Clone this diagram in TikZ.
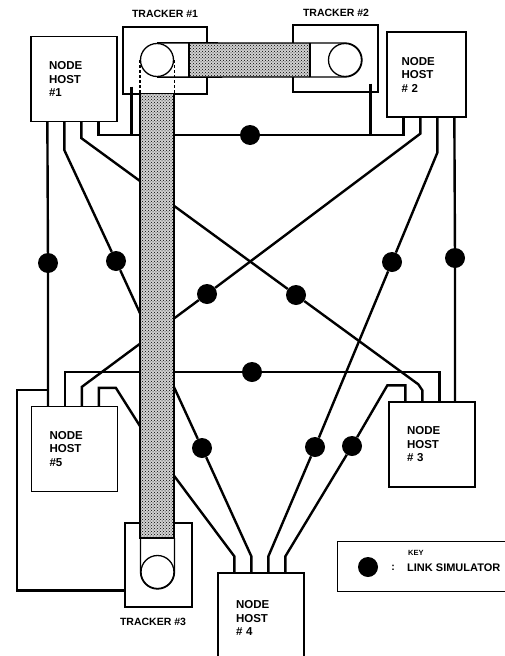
\documentclass[tikz,border=0pt]{standalone}
\usepackage{fontspec}
\newfontfamily\diagfont{Liberation Sans}
\usetikzlibrary{calc, patterns}

\begin{document}
\begin{tikzpicture}[x=1pt, y=-1pt,
        host/.style={rectangle, draw, line width=1.3pt, inner sep=0pt, text width=50pt, align=left,
          minimum width=86pt, minimum height=85pt, font=\diagfont\bfseries\fontsize{11.5}{13.5}\selectfont},
        tracker/.style={rectangle, draw, line width=1.3pt, minimum width=84pt, minimum height=67pt},
        trk/.style={inner sep=0pt, font=\diagfont\bfseries\fontsize{10.5}{12}\selectfont},
        pulley/.style={circle, draw, fill=white, line width=1.3pt, minimum size=33pt, inner sep=0pt},
        sim/.style={circle, fill=black, minimum size=20pt, inner sep=0pt},
        link/.style={line width=2.4pt},
        beltline/.style={line width=1.3pt},
        belt/.style={preaction={fill=black!18}, pattern=crosshatch dots, pattern color=black}]

        \useasboundingbox (0,0) rectangle (504,656);

        % Node hosts
        \node[host] (h1) at (74,79) {NODE\\HOST\\\#1};
        \node[host, minimum width=79pt] (h2) at (426.5,74.5) {NODE\\HOST\\\# 2};
        \node[host] (h3) at (432,444.5) {NODE\\HOST\\\# 3};
        \node[host, minimum height=90pt] (h4) at (261,618) {NODE\\HOST\\\# 4};
        \node[host] (h5) at (74.5,449) {NODE\\HOST\\\#5};

        % ports on each host
        \foreach \h/\a in {h1/south west, h2/south west, h3/north west, h4/north west, h5/north west}
          \foreach \n/\d in {1/17, 2/34, 3/51, 4/68}
            \coordinate (\h-\n) at ($(\h.\a)+(\d,0)$);

        % Trackers
        \node[tracker] (t1) at (165,60.5) {};
        \node[tracker, minimum width=85pt] (t2) at (335.5,58.5) {};
        \node[tracker, minimum width=67pt, minimum height=84pt] (t3) at (158.5,565) {};
        \node[trk] (t1lab) at (165,14) {TRACKER \#1};
        \node[trk] (t2lab) at (336,13) {TRACKER \#2};
        \node[trk] (t3lab) at (153,622) {TRACKER \#3};

        % Link simulators
        \node[sim] (s12) at (250,135) {};
        \node[sim] (s15) at (48,263) {};
        \node[sim] (s13) at (296,295) {};
        \node[sim] (s14) at (116,261) {};
        \node[sim] (s14b) at (202,448) {};
        \node[sim] (s23) at (455,258) {};
        \node[sim] (s24) at (392,262) {};
        \node[sim] (s24b) at (315,447) {};
        \node[sim] (s25) at (207,294) {};
        \node[sim] (s35) at (252,372) {};
        \node[sim] (s34) at (352,446) {};

        % Links
        \draw[link] (h1-4) |- (s12) -| (h2-1);
        \draw[link] (h1-1) -- (s15) -- (s15 |- h5.north);
        \draw[link] (h1-3) -- ++(0,16) -- (s13) -- ($(h3-2)+(-4,-17)$) -- ($(h3-2)+(0,-11)$) -- (h3-2);
        \draw[link] (h1-2) -- ++(0,28) -- (s14) -- (s14b) -- ($(h4-2)+(0,-16)$) -- (h4-2);
        \draw[link] (h2-4) -- (s23) -- (s23 |- h3.north);
        \draw[link] (h2-3) -- ++(0,35) -- (s24) -- (s24b) -- ($(h4-3)+(0,-16)$) -- (h4-3);
        \draw[link] (h2-2) -- ++(0,16) -- (s25) -- ($(h5-3)+(0,-19)$) -- (h5-3);
        \draw[link] (h5-2) |- (s35) -| (h3-3);
        \draw[link] (h3-1) -- ++(0,-16) -- ++(-18,0) -- (s34) -- ($(h4-4)+(0,-16)$) -- (h4-4);
        \draw[link] (h5-4) -- ++(0,-18) -- ++(17,0) -- (157,453) -- ($(h4-1)+(0,-16)$) -- (h4-1);

        % Tracker taps
        \coordinate (t1tap) at ($(t1.south west)+(9,-8)$);
        \coordinate (t2tap) at ($(t2.south east)+(-8,-9)$);
        \coordinate (t3tap) at ($(t3.south west)+(0,-17)$);
        \draw[link] (t1tap) -- (t1tap |- s12);
        \draw[link] (t2tap) -- (t2tap |- s12);
        \draw[link] ($(s15 |- h5.north)+(0,-16)$) -- ++(-31,0) |- (t3tap);

        % Pulleys
        \node[pulley] (c1) at (157,60) {};
        \node[pulley] (c2) at (345,60) {};
        \node[pulley] (c3) at (157.5,572) {};

        % Belts
        \path[belt] (140,94) rectangle (174,538);
        \draw[beltline] (140,94) -- (140,538) -- (174,538) -- (174,94);
        \draw[beltline] (140.5,538) -- (140.5,572) arc[start angle=180, end angle=0, radius=17] -- (174.5,538);
        \draw[beltline, dash pattern=on 3pt off 2pt] (c1.west) -- (c1.west |- t1.south) (c1.east) -- (c1.east |- t1.south);
        \path[belt] (189,43) rectangle (310,77);
        \draw[beltline] (189,43) -- (189,77) (310,43) -- (310,77);
        \draw[beltline] (c1.north) -- (345,43) arc[start angle=-90, end angle=90, radius=17] -- (c1.south);

        % Key
        \node[draw, line width=1pt, minimum width=175pt, minimum height=50pt] (key) at (424.5,566) {};
        \node[sim] (keysim) at (368,567) {};
        \node[trk] (keycolon) at (393,568) {:};
        \node[trk, anchor=west, font=\diagfont\bfseries\fontsize{7.5}{9}\selectfont] (keytitle) at (408,553) {KEY};
        \node[trk, anchor=west, font=\diagfont\bfseries\fontsize{11}{13}\selectfont] (keytext) at (407,568) {LINK SIMULATOR};
      \end{tikzpicture}
\end{document}
